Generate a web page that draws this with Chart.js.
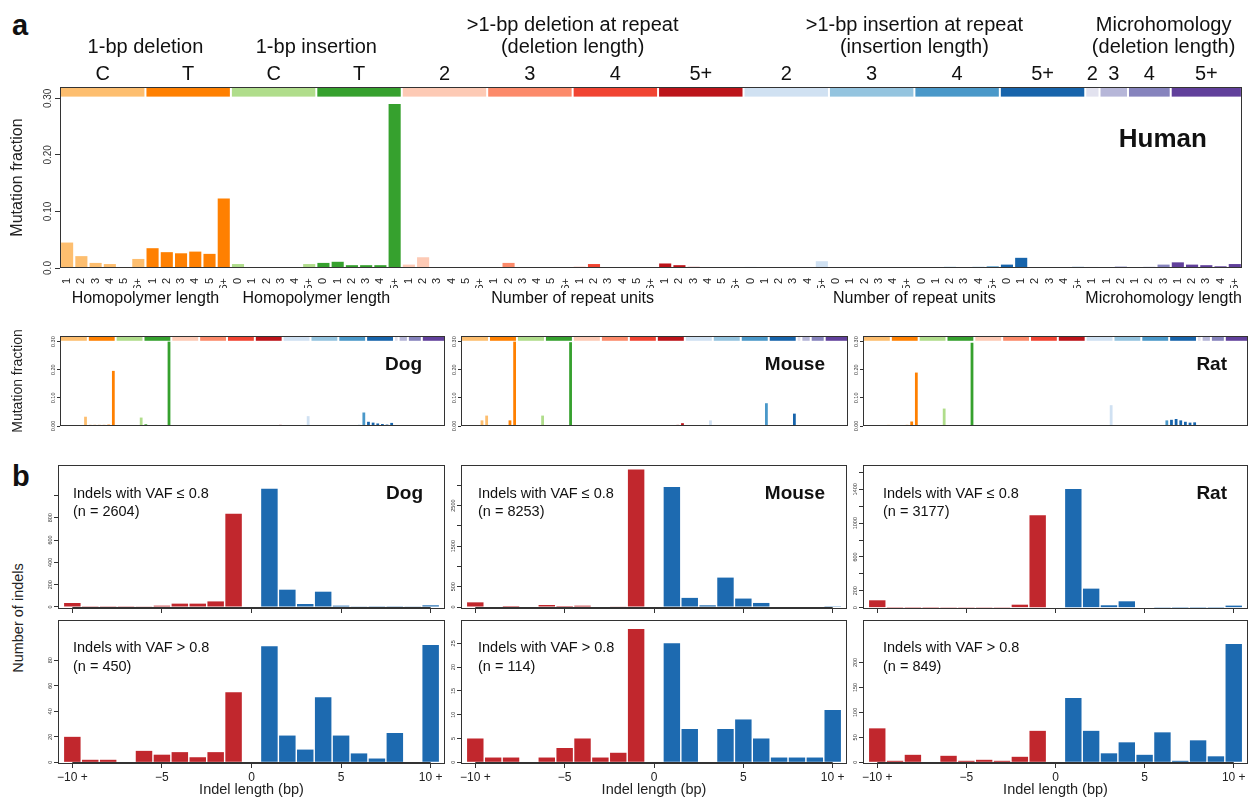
<!DOCTYPE html>
<html>
<head>
<meta charset="utf-8">
<title>Indel spectra</title>
<script src="https://cdn.jsdelivr.net/npm/chart.js@4.4.1/dist/chart.umd.min.js"></script>
<style>
  html, body { margin: 0; background: #fff; }
  body { position: relative; width: 1250px; height: 799px; overflow: hidden; font-family: "Liberation Sans", Arial, sans-serif; color: #111; }
  canvas { position: absolute; }
  .tag { position: absolute; font-weight: bold; font-size: 29px; line-height: 1; }
  .vlabel { position: absolute; white-space: nowrap; transform: translate(-50%, -50%) rotate(-90deg); color: #222; }
</style>
</head>
<body>
<div class="tag" style="left:12px; top:11px">a</div>
<div class="tag" style="left:12px; top:462px">b</div>
<div class="vlabel" style="left:18px; top:618px; font-size:14.5px">Number of indels</div>
<script>
const FONT = '"Liberation Sans", Arial, sans-serif';
const INK = '#333';
Chart.defaults.font.family = FONT;

// ---- panel a: 83 indel classes ----
const ID83_LABELS = [
  '1','2','3','4','5','6+', '1','2','3','4','5','6+',
  '0','1','2','3','4','5+', '0','1','2','3','4','5+',
  '1','2','3','4','5','6+', '1','2','3','4','5','6+', '1','2','3','4','5','6+', '1','2','3','4','5','6+',
  '0','1','2','3','4','5+', '0','1','2','3','4','5+', '0','1','2','3','4','5+', '0','1','2','3','4','5+',
  '1', '1','2', '1','2','3', '1','2','3','4','5+'
];

const HUMAN = [
  0.045,0.021,0.009,0.007,0.001,0.016,
  0.035,0.028,0.026,0.029,0.025,0.123,
  0.007,0.001,0.001,0.0005,0.0005,0.007,
  0.009,0.011,0.005,0.005,0.005,0.290,
  0.006,0.019,0.001,0.0005,0.0005,0.0005,
  0.001,0.009,0.001,0.0005,0.0005,0.0005,
  0.002,0.007,0.001,0.0005,0.0005,0.0005,
  0.008,0.005,0.002,0.001,0.0005,0.0005,
  0.002,0.0005,0.0005,0.0005,0.001,0.012,
  0.001,0.0005,0.0005,0.0005,0.0005,0.001,
  0.001,0.001,0.002,0.001,0.002,0.003,
  0.006,0.018,0.001,0.0005,0.001,0.002,
  0.002, 0.001,0.003, 0.001,0.002,0.006, 0.010,0.006,0.005,0.003,0.007
];
const DOG = [
  0.002,0.001,0.001,0.001,0.002,0.033,
  0.004,0.004,0.004,0.004,0.005,0.196,
  0.002,0.001,0.001,0.001,0.002,0.030,
  0.006,0.003,0.002,0.001,0.001,0.300,
  0.002,0.002,0.001,0.0005,0.0005,0.0005,
  0.001,0.002,0.001,0.0005,0.0005,0.0005,
  0.001,0.002,0.001,0.0005,0.0005,0.0005,
  0.002,0.002,0.001,0.001,0.002,0.004,
  0.001,0.001,0.001,0.001,0.001,0.035,
  0.001,0.001,0.001,0.001,0.001,0.003,
  0.001,0.001,0.001,0.002,0.004,0.048,
  0.015,0.012,0.009,0.007,0.005,0.011,
  0.001, 0.001,0.001, 0.001,0.001,0.002, 0.002,0.002,0.003,0.002,0.003
];
const MOUSE = [
  0.001,0.002,0.002,0.003,0.020,0.037,
  0.002,0.002,0.002,0.003,0.020,0.300,
  0.002,0.001,0.001,0.001,0.002,0.037,
  0.003,0.002,0.001,0.001,0.001,0.298,
  0.001,0.002,0.0005,0.0005,0.0005,0.0005,
  0.001,0.001,0.0005,0.0005,0.0005,0.0005,
  0.001,0.001,0.0005,0.0005,0.0005,0.0005,
  0.001,0.001,0.002,0.003,0.004,0.010,
  0.001,0.001,0.001,0.001,0.002,0.020,
  0.001,0.001,0.001,0.001,0.001,0.002,
  0.001,0.001,0.001,0.002,0.003,0.081,
  0.002,0.001,0.001,0.001,0.002,0.044,
  0.001, 0.001,0.001, 0.001,0.001,0.001, 0.001,0.001,0.001,0.001,0.002
];
const RAT = [
  0.001,0.001,0.002,0.002,0.003,0.004,
  0.002,0.002,0.003,0.004,0.016,0.190,
  0.001,0.001,0.001,0.002,0.003,0.062,
  0.002,0.001,0.001,0.001,0.001,0.296,
  0.001,0.001,0.0005,0.0005,0.0005,0.0005,
  0.001,0.001,0.0005,0.0005,0.0005,0.0005,
  0.001,0.001,0.001,0.0005,0.0005,0.0005,
  0.002,0.003,0.003,0.002,0.002,0.002,
  0.001,0.001,0.001,0.001,0.002,0.074,
  0.001,0.001,0.001,0.001,0.001,0.002,
  0.001,0.001,0.001,0.002,0.003,0.020,
  0.022,0.025,0.020,0.015,0.012,0.013,
  0.001, 0.001,0.001, 0.001,0.001,0.001, 0.001,0.001,0.002,0.002,0.003
];

// class groups: size, colour, label above the strip
const GROUPS = [
  { n: 6, color: '#FDBE6F', sub: 'C' },  { n: 6, color: '#FF8001', sub: 'T' },
  { n: 6, color: '#B0DD8B', sub: 'C' },  { n: 6, color: '#36A12E', sub: 'T' },
  { n: 6, color: '#FDCAB5', sub: '2' },  { n: 6, color: '#FC8A6A', sub: '3' },
  { n: 6, color: '#F14432', sub: '4' },  { n: 6, color: '#BC141A', sub: '5+' },
  { n: 6, color: '#D0E1F2', sub: '2' },  { n: 6, color: '#94C4DF', sub: '3' },
  { n: 6, color: '#4A98C9', sub: '4' },  { n: 6, color: '#1764AB', sub: '5+' },
  { n: 1, color: '#E2E2EF', sub: '2' },  { n: 2, color: '#B6B6D8', sub: '3' },
  { n: 3, color: '#8683BD', sub: '4' },  { n: 5, color: '#61409B', sub: '5+' }
];
const HEADERS = [
  { from: 0,  to: 11, top: '', bottom: '1-bp deletion' },
  { from: 12, to: 23, top: '', bottom: '1-bp insertion' },
  { from: 24, to: 47, top: '>1-bp deletion at repeat', bottom: '(deletion length)' },
  { from: 48, to: 71, top: '>1-bp insertion at repeat', bottom: '(insertion length)' },
  { from: 72, to: 82, top: 'Microhomology', bottom: '(deletion length)' }
];
const AXIS_NOTES = [
  { from: 0,  to: 11, text: 'Homopolymer length' },
  { from: 12, to: 23, text: 'Homopolymer length' },
  { from: 24, to: 47, text: 'Number of repeat units' },
  { from: 48, to: 71, text: 'Number of repeat units' },
  { from: 72, to: 82, text: 'Microhomology length' }
];
const FRACTION_TICKS = [0, 0.1, 0.2, 0.3];

// ---- panel b: indel length histograms ----
const LENGTHS = [-10,-9,-8,-7,-6,-5,-4,-3,-2,-1,0,1,2,3,4,5,6,7,8,9,10];
const LENGTH_TICKS = [-10, -5, 0, 5, 10];
const LENGTH_TICK_LABELS = ['\u221210 +', '\u22125', '0', '5', '10 +'];
const DOG_LOW    = [36,2,2,2,3,12,30,30,50,836,0,1060,155,27,137,12,3,2,2,3,15];
const DOG_HIGH   = [20,2,2,0,9,6,8,4,8,55,0,91,21,10,51,21,7,3,23,0,92];
const MOUSE_LOW  = [115,0,25,0,50,25,33,0,15,3390,0,2958,225,42,725,208,100,0,0,0,5];
const MOUSE_HIGH = [5,1,1,0,1,3,5,1,2,28,0,25,7,0,7,9,5,1,1,1,11];
const RAT_LOW    = [87,2,2,2,3,3,3,3,35,1093,0,1404,225,28,75,0,3,2,2,2,24];
const RAT_HIGH   = [68,3,15,0,13,3,5,3,11,63,0,129,63,18,40,15,60,3,44,12,237];

const RED = '#C1272D';
const BLUE = '#1D6AB0';

const classColors = [];
GROUPS.forEach(g => { for (let k = 0; k < g.n; k++) classColors.push(g.color); });

function drawHeaders(ctx, xs) {
  const mid = (i, j) => (xs.getPixelForValue(i) + xs.getPixelForValue(j)) / 2;
  ctx.fillStyle = '#111';
  ctx.textAlign = 'center';
  ctx.textBaseline = 'middle';
  ctx.font = `20px ${FONT}`;
  HEADERS.forEach(h => {
    if (h.top) ctx.fillText(h.top, mid(h.from, h.to), 25);
    ctx.fillText(h.bottom, mid(h.from, h.to), 47);
  });
  let i = 0;
  GROUPS.forEach(g => { ctx.fillText(g.sub, mid(i, i + g.n - 1), 74); i += g.n; });
  ctx.font = `16px ${FONT}`;
  AXIS_NOTES.forEach(n => ctx.fillText(n.text, mid(n.from, n.to), 299));
}

// frame, colour strip, rotated y labels and text notes
function deco(cfg) {
  return {
    id: 'deco',
    afterDraw(chart) {
      const ctx = chart.ctx, a = chart.chartArea, xs = chart.scales.x, ys = chart.scales.y;
      ctx.save();
      if (cfg.strip) {
        const step = xs.getPixelForValue(1) - xs.getPixelForValue(0);
        const yTop = a.top + 1, yBot = ys.getPixelForValue(cfg.strip);
        let i = 0;
        GROUPS.forEach(g => {
          const l = xs.getPixelForValue(i) - step / 2 + 1;
          const r = xs.getPixelForValue(i + g.n - 1) + step / 2 - 1;
          ctx.fillStyle = g.color;
          ctx.fillRect(l, yTop, r - l, yBot - yTop);
          i += g.n;
        });
      }
      ctx.strokeStyle = INK;
      ctx.lineWidth = 1;
      if (cfg.zeroLine) {
        const y0 = Math.round(ys.getPixelForValue(0)) + 0.5;
        ctx.beginPath();
        ctx.moveTo(xs.getPixelForValue(LENGTH_TICKS[0]), y0);
        ctx.lineTo(xs.getPixelForValue(LENGTH_TICKS[LENGTH_TICKS.length - 1]), y0);
        ctx.stroke();
      }
      const L = Math.round(a.left) + 0.5, T = Math.round(a.top) + 0.5;
      const R = Math.round(a.right) - 0.5, B = Math.round(a.bottom) - 0.5;
      ctx.strokeRect(L, T, R - L, B - T);

      ctx.fillStyle = INK;
      ctx.font = `${cfg.yFont}px ${FONT}`;
      ctx.textAlign = 'center';
      ctx.textBaseline = 'bottom';
      cfg.yTicks.forEach((v, k) => {
        const t = cfg.yLabels[k];
        if (!t) return;
        ctx.save();
        ctx.translate(ys.right - cfg.tickLen - cfg.yGap, ys.getPixelForValue(v));
        ctx.rotate(-Math.PI / 2);
        ctx.fillText(t, 0, 0);
        ctx.restore();
      });

      if (cfg.yTitle) {
        ctx.save();
        ctx.fillStyle = '#222';
        ctx.font = `${cfg.yTitle.size}px ${FONT}`;
        ctx.textBaseline = 'middle';
        ctx.translate(cfg.yTitle.x - cfg.box[0], (a.top + a.bottom) / 2);
        ctx.rotate(-Math.PI / 2);
        ctx.fillText(cfg.yTitle.text, 0, 0);
        ctx.restore();
      }

      ctx.fillStyle = '#111';
      ctx.textBaseline = 'middle';
      (cfg.notes || []).forEach(n => {
        ctx.font = `${n.bold ? 'bold ' : ''}${n.size}px ${FONT}`;
        ctx.textAlign = n.right ? 'right' : 'left';
        ctx.fillText(n.text, (n.right ? a.right : a.left) + n.dx, a.top + n.dy);
      });

      if (cfg.headers) drawHeaders(ctx, xs);
      ctx.restore();
    }
  };
}

function panel(cfg) {
  const [bx, by, bw, bh] = cfg.box;
  const [al, at, ar, ab] = cfg.area;
  const canvas = document.createElement('canvas');
  canvas.width = bw;
  canvas.height = bh;
  canvas.style.left = bx + 'px';
  canvas.style.top = by + 'px';
  document.body.appendChild(canvas);

  let xScale;
  if (cfg.lengthAxis) {
    xScale = {
      type: 'linear', min: -10.8, max: 10.8, offset: false,
      afterBuildTicks: s => { s.ticks = LENGTH_TICKS.map(v => ({ value: v })); },
      afterFit: s => { s.height = cfg.xHeight; },
      ticks: {
        display: cfg.xLabels, autoSkip: false, minRotation: 0, maxRotation: 0, padding: 2,
        font: { size: 12 }, color: '#222',
        callback: (v, i) => LENGTH_TICK_LABELS[i]
      },
      grid: { display: true, drawOnChartArea: false, drawTicks: true, tickLength: 4, color: INK, offset: false },
      border: { display: false },
      title: { display: cfg.xLabels, text: 'Indel length (bp)', font: { size: 14.5 }, color: '#222', padding: { top: 0, bottom: 0 } }
    };
  } else {
    xScale = {
      type: 'category', offset: true,
      afterFit: s => { s.height = cfg.xHeight; },
      ticks: { display: cfg.xLabels, autoSkip: false, minRotation: 90, maxRotation: 90, padding: 2, font: { size: 11 }, color: '#222' },
      grid: { display: false },
      border: { display: false }
    };
  }

  new Chart(canvas.getContext('2d'), {
    type: 'bar',
    data: {
      labels: cfg.labels,
      datasets: [{
        data: cfg.data,
        backgroundColor: cfg.colors,
        borderWidth: 0,
        barPercentage: cfg.barPct,
        categoryPercentage: 1
      }]
    },
    options: {
      responsive: false,
      animation: false,
      devicePixelRatio: 1,
      layout: { padding: { left: 0, top: at - by, right: bx + bw - ar, bottom: by + bh - ab - cfg.xHeight } },
      plugins: { legend: { display: false }, tooltip: { enabled: false } },
      scales: {
        x: xScale,
        y: {
          min: cfg.yMin, max: cfg.yMax,
          afterBuildTicks: s => { s.ticks = cfg.yTicks.map(v => ({ value: v })); },
          afterFit: s => { s.width = al - bx; },
          ticks: { display: false },
          grid: { display: true, drawOnChartArea: false, drawTicks: true, tickLength: cfg.tickLen, color: INK },
          border: { display: false }
        }
      }
    },
    plugins: [deco(cfg)]
  });
}

// Human signature
panel({
  box: [0, 0, 1250, 312], area: [60, 87, 1248, 268], xHeight: 20, xLabels: true,
  labels: ID83_LABELS, data: HUMAN, colors: classColors, barPct: 0.85,
  yMin: 0, yMax: 0.32, yTicks: FRACTION_TICKS, yLabels: ['0.0', '0.10', '0.20', '0.30'],
  yFont: 10, tickLen: 5, yGap: 2, strip: 0.303, headers: true,
  yTitle: { text: 'Mutation fraction', x: 18, size: 16 },
  notes: [{ text: 'Human', right: true, dx: -35, dy: 53, size: 26, bold: true }]
});

// Dog / Mouse / Rat signatures
const smallPanels = [
  { name: 'Dog',   data: DOG,   box: [0, 325, 450, 110],   area: [60, 336, 445, 426],   dx: -23, title: true },
  { name: 'Mouse', data: MOUSE, box: [445, 325, 405, 110], area: [461, 336, 848, 426],  dx: -23 },
  { name: 'Rat',   data: RAT,   box: [850, 325, 400, 110], area: [863, 336, 1248, 426], dx: -21 }
];
smallPanels.forEach(p => panel({
  box: p.box, area: p.area, xHeight: 2, xLabels: false,
  labels: ID83_LABELS, data: p.data, colors: classColors, barPct: 0.6,
  yMin: 0, yMax: 0.32, yTicks: FRACTION_TICKS, yLabels: ['0.00', '0.10', '0.20', '0.30'],
  yFont: 5.5, tickLen: 3, yGap: 1, strip: 0.303,
  yTitle: p.title ? { text: 'Mutation fraction', x: 18, size: 14 } : null,
  notes: [{ text: p.name, right: true, dx: p.dx, dy: 29, size: 19, bold: true }]
}));

// Indel length histograms
const lengthPanels = [
  { name: 'Dog',   vals: DOG_LOW,    row: 0, col: 0, n: 2604, yMin: -18,   yMax: 1272,
    yTicks: [0,200,400,600,800,1000], yLabels: ['0','200','400','600','800',''] },
  { name: 'Mouse', vals: MOUSE_LOW,  row: 0, col: 1, n: 8253, yMin: -49,   yMax: 3500,
    yTicks: [0,500,1000,1500,2000,2500,3000], yLabels: ['0','500','','1500','','2500',''] },
  { name: 'Rat',   vals: RAT_LOW,    row: 0, col: 2, n: 3177, yMin: -16,   yMax: 1688,
    yTicks: [0,200,400,600,800,1000,1200,1400,1600], yLabels: ['0','200','','600','','1000','','1400',''] },
  { name: 'Dog',   vals: DOG_HIGH,   row: 1, col: 0, n: 450,  yMin: -1.3,  yMax: 111.6,
    yTicks: [0,20,40,60,80], yLabels: ['0','20','40','60','80'] },
  { name: 'Mouse', vals: MOUSE_HIGH, row: 1, col: 1, n: 114,  yMin: -0.36, yMax: 29.9,
    yTicks: [0,5,10,15,20,25], yLabels: ['0','5','10','15','20','25'] },
  { name: 'Rat',   vals: RAT_HIGH,   row: 1, col: 2, n: 849,  yMin: -3.4,  yMax: 285,
    yTicks: [0,50,100,150,200], yLabels: ['0','50','100','150','200'] }
];
const colBoxes = [[0, 450, 58, 445, 15], [445, 405, 461, 847, 17], [850, 400, 863, 1248, 20]];
lengthPanels.forEach(p => {
  const [cx, cw, al, ar, textDx] = colBoxes[p.col];
  const top = p.row === 0;
  panel({
    box: top ? [cx, 455, cw, 160] : [cx, 612, cw, 187],
    area: top ? [al, 465, ar, 609] : [al, 620, ar, 764],
    xHeight: top ? 5 : 35, xLabels: !top, lengthAxis: true, zeroLine: true,
    data: LENGTHS.map((x, i) => ({ x: x, y: p.vals[i] })),
    colors: LENGTHS.map(x => (x < 0 ? RED : BLUE)), barPct: 0.92,
    yMin: p.yMin, yMax: p.yMax, yTicks: p.yTicks, yLabels: p.yLabels,
    yFont: 5.5, tickLen: 4, yGap: 1,
    notes: [
      { text: top ? 'Indels with VAF \u2264 0.8' : 'Indels with VAF > 0.8', dx: textDx, dy: top ? 29 : 28, size: 14.5 },
      { text: '(n = ' + p.n + ')', dx: textDx, dy: 47, size: 14.5 }
    ].concat(top ? [{ text: p.name, right: true, dx: p.col === 2 ? -21 : -22, dy: 29, size: 19, bold: true }] : [])
  });
});
</script>
</body>
</html>
